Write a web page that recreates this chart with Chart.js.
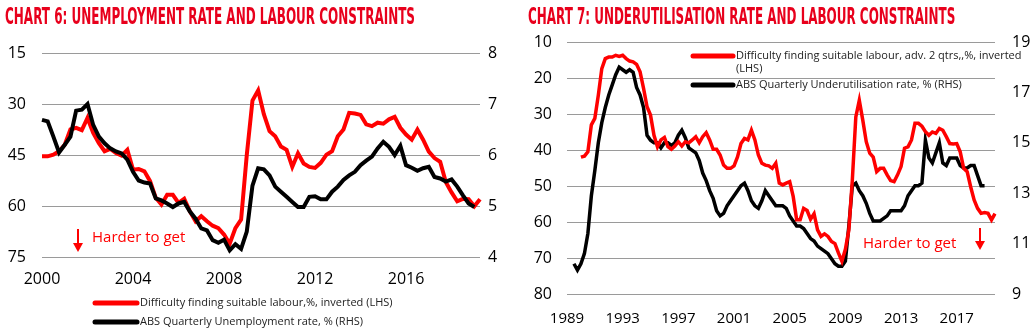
<!DOCTYPE html>
<html>
<head>
<meta charset="utf-8">
<script src="https://cdn.jsdelivr.net/npm/chart.js@4.4.1/dist/chart.umd.min.js"></script>
<style>
  html, body { margin: 0; padding: 0; background: #fff; }
  body { width: 1035px; height: 335px; position: relative; overflow: hidden; }
  .panel { position: absolute; top: 0; height: 335px; }
  .panel canvas { position: absolute; left: 0; top: 0; }
  .title {
    position: absolute; top: 3px; white-space: nowrap;
    font-family: 'DejaVu Sans Condensed', 'DejaVu Sans', sans-serif;
    font-weight: bold; font-size: 23px; line-height: normal;
    color: #e8001c; transform-origin: 0 0;
  }
</style>
</head>
<body>
<div class="panel" style="left:0;width:520px">
  <canvas id="chart6" width="520" height="335"></canvas>
  <div class="title" style="left:5px" data-width="410">CHART 6: UNEMPLOYMENT RATE AND LABOUR CONSTRAINTS</div>
</div>
<div class="panel" style="left:520px;width:515px">
  <canvas id="chart7" width="515" height="335"></canvas>
  <div class="title" style="left:8px" data-width="427">CHART 7: UNDERUTILISATION RATE AND LABOUR CONSTRAINTS</div>
</div>
<script>
// ---- Chart 6: quarterly from 2000 Q1 ----
const tickYears6 = ['2000', '2004', '2008', '2012', '2016'];
// difficulty finding labour, % (plotted inverted), 2000 Q1 - 2019 Q2
const difficulty6 = [
  45.4, 45.4, 44.9, 43.9, 42, 37.5, 37, 37.7, 34.1, 38.5,
  41.5, 43.9, 43.2, 44.4, 45.2, 43.5, 49.3, 49.1, 49.8, 52.7,
  57.6, 59.6, 56.7, 56.7, 59.1, 57.9, 61.6, 64.5, 63, 64.5,
  65.8, 66.5, 68.4, 71.1, 66.5, 64, 45, 29, 26, 33,
  38, 39.5, 42.5, 43.5, 48.5, 44.5, 47.5, 48.5, 48.8, 47.3,
  44.9, 43.9, 39.5, 37.5, 32.6, 32.8, 33.2, 36, 36.5, 35.5,
  35.8, 34.5, 33.8, 37, 39, 40.5, 37.5, 40.5, 44, 45.9,
  47, 53, 56, 58.6, 57.9, 58, 60.1, 58
];
// unemployment rate, %, 2000 Q1 - 2019 Q1
const unemployment6 = [
  6.69, 6.66, 6.36, 6.05, 6.2, 6.36, 6.87, 6.89, 7.0, 6.59,
  6.36, 6.23, 6.13, 6.07, 6.03, 5.91, 5.67, 5.5, 5.46, 5.44,
  5.15, 5.11, 5.05, 4.98, 5.05, 5.08, 4.89, 4.75, 4.56, 4.52,
  4.33, 4.28, 4.34, 4.13, 4.25, 4.16, 4.5, 5.4, 5.74, 5.72,
  5.6, 5.38, 5.28, 5.18, 5.08, 4.98, 4.98, 5.18, 5.19, 5.13,
  5.13, 5.28, 5.38, 5.51, 5.6, 5.67, 5.8, 5.89, 5.97, 6.13,
  6.26, 6.16, 6.0, 6.18, 5.8, 5.75, 5.69, 5.74, 5.77, 5.57,
  5.54, 5.48, 5.52, 5.38, 5.21, 5.05, 4.98
];

// ---- Chart 7: quarterly from 1989 Q1 ----
const tickYears7 = ['1989', '1993', '1997', '2001', '2005', '2009', '2013', '2017'];
// difficulty finding labour, advanced 2 qtrs, starts 1990 Q1
const difficulty7 = [
  42, 41.7, 40.5, 33, 31.2, 24.8, 17.4, 14.6, 14.2, 14.2,
  13.7, 14, 13.7, 14.6, 15.3, 15.5, 16.2, 18.3, 22.9, 28,
  30.3, 35.9, 39.1, 37.2, 36.5, 39.1, 39.8, 38.9, 37.7, 38.9,
  37.7, 38, 37.2, 36.3, 38, 36.3, 35.2, 37.2, 39.8, 39.8,
  41.4, 44.2, 45.1, 45.1, 44.4, 41.9, 38.2, 36.8, 37.2, 34.5,
  37.2, 41.4, 43.7, 44.2, 44.4, 45.1, 43.7, 49.2, 49.7, 49.2,
  48.8, 52.9, 59.4, 59.4, 56.2, 56.8, 59.2, 57.7, 62.2, 64,
  63.3, 64, 65.4, 66, 68.6, 70.9, 67.6, 62.2, 48.3, 30.8,
  26.2, 31.7, 37.7, 40.9, 42, 46, 45.1, 45.1, 46.9, 48.5,
  48.8, 46.9, 44.6, 39.5, 39.1, 37.2, 32.6, 32.6, 33.4, 34.9,
  35.9, 35, 35.4, 34, 34.5, 36.3, 38.2, 38.3, 38.2, 40.5,
  45.1, 46, 50.2, 53.9, 56.2, 57.6, 57.4, 57.6, 59.4, 57.7
];
// underutilisation rate, %, starts 1989 Q3
const underutilisation7 = [
  10.2, 9.95, 10.2, 10.6, 11.4, 12.9, 13.9, 15, 15.8, 16.4,
  16.9, 17.3, 17.7, 18, 17.9, 17.8, 17.9, 17.8, 17.2, 16.9,
  16.4, 15.3, 15.1, 15, 15, 14.8, 15, 15, 14.9, 15,
  15.3, 15.5, 15.2, 14.8, 14.7, 14.6, 14.3, 13.8, 13.5, 13.1,
  12.8, 12.3, 12.1, 12.2, 12.5, 12.7, 12.9, 13.1, 13.3, 13.4,
  13.1, 12.7, 12.5, 12.4, 12.7, 13.1, 12.9, 12.7, 12.5, 12.5,
  12.5, 12.4, 12.1, 11.9, 11.7, 11.7, 11.6, 11.4, 11.2, 11.1,
  10.9, 10.8, 10.7, 10.6, 10.4, 10.2, 10.1, 10.1, 10.3, 11.7,
  13.3, 13.4, 13.1, 12.9, 12.6, 12.2, 11.9, 11.9, 11.9, 12,
  12.1, 12.3, 12.3, 12.3, 12.3, 12.5, 12.9, 13.1, 13.3, 13.3,
  13.4, 15.1, 14.4, 14.2, 14.6, 15, 14.2, 14.1, 14.4, 14.4,
  14.4, 14.1, 14, 14, 14.1, 14.1, 13.7, 13.3, 13.3
];

const RED = '#ff0000';
const GRID = '#9a9a9a';
const TICK_FONT = 'Open Sans';

function quarterLabels(startYear, count) {
  const out = [];
  for (let i = 0; i < count; i++) {
    out.push((startYear + Math.floor(i / 4)) + ' Q' + (i % 4 + 1));
  }
  return out;
}

function padStart(values, gap) {
  return new Array(gap).fill(null).concat(values);
}

// only label Q1 of the chosen years
function yearTicks(labels, years) {
  return (value, index) => {
    const [yr, q] = labels[index].split(' ');
    return q === 'Q1' && years.includes(yr) ? yr : '';
  };
}

// legend rows and the "Harder to get" note, drawn straight onto the canvas
const notesPlugin = {
  id: 'notes',
  afterDatasetsDraw(chart, args, opts) {
    const ctx = chart.ctx;
    const lg = opts.legend;
    ctx.save();
    ctx.font = lg.font;
    ctx.textBaseline = 'middle';
    ctx.textAlign = 'left';
    let y = lg.y;
    chart.data.datasets.forEach(ds => {
      ctx.strokeStyle = ds.borderColor;
      ctx.lineWidth = lg.lineWidth;
      ctx.lineCap = 'round';
      ctx.beginPath();
      ctx.moveTo(lg.x, y);
      ctx.lineTo(lg.x + lg.sampleWidth, y);
      ctx.stroke();
      ctx.fillStyle = lg.color;
      ds.label.split('\n').forEach(line => {
        ctx.fillText(line, lg.x + lg.sampleWidth + lg.gap, y);
        y += lg.lineHeight;
      });
      y += lg.rowGap;
    });

    const n = opts.note;
    ctx.fillStyle = n.color;
    ctx.strokeStyle = n.color;
    ctx.font = n.font;
    ctx.fillText(n.text, n.x, n.y);
    // arrow pointing down
    ctx.lineWidth = 2;
    ctx.lineCap = 'butt';
    ctx.beginPath();
    ctx.moveTo(n.arrowX, n.arrowTop);
    ctx.lineTo(n.arrowX, n.arrowTip - 7);
    ctx.stroke();
    ctx.beginPath();
    ctx.moveTo(n.arrowX - 5, n.arrowTip - 9);
    ctx.lineTo(n.arrowX + 5, n.arrowTip - 9);
    ctx.lineTo(n.arrowX, n.arrowTip);
    ctx.closePath();
    ctx.fill();
    ctx.restore();
  }
};

function axisFont(size) {
  return { family: TICK_FONT, size: size };
}

// chart 6
const labels6 = quarterLabels(2000, 78);
new Chart(document.getElementById('chart6'), {
  type: 'line',
  data: {
    labels: labels6,
    datasets: [
      {
        label: 'Difficulty finding suitable labour,%, inverted (LHS)',
        data: difficulty6,
        yAxisID: 'y',
        borderColor: RED,
        borderWidth: 4,
        pointRadius: 0,
        tension: 0,
        order: 1
      },
      {
        label: 'ABS Quarterly Unemployment rate, % (RHS)',
        data: unemployment6,
        yAxisID: 'y1',
        borderColor: '#000',
        borderWidth: 4,
        pointRadius: 0,
        tension: 0,
        order: 0
      }
    ]
  },
  options: {
    responsive: false,
    animation: false,
    layout: { padding: { top: 53, left: 0, right: 0, bottom: 0 } },
    plugins: {
      legend: { display: false },
      tooltip: { enabled: false },
      notes: {
        legend: { x: 95, y: 303, sampleWidth: 42, gap: 3, lineWidth: 5, lineHeight: 19, rowGap: 0,
          font: '11px "Open Sans"', color: '#222' },
        note: { text: 'Harder to get', x: 92, y: 238, font: '15px "Open Sans"', color: RED,
          arrowX: 78, arrowTop: 229, arrowTip: 252 }
      }
    },
    scales: {
      x: {
        grid: { display: false, drawTicks: false },
        border: { display: false },
        ticks: { autoSkip: false, maxRotation: 0, padding: 13, color: '#000', font: axisFont(16),
          callback: yearTicks(labels6, tickYears6) },
        afterFit: s => { s.height = 78; }
      },
      y: {
        position: 'left',
        reverse: true,
        min: 15,
        max: 75,
        ticks: { stepSize: 15, padding: 16, color: '#000', font: axisFont(16) },
        grid: { color: GRID, drawTicks: false },
        border: { display: false },
        afterFit: s => { s.width = 42; }
      },
      y1: {
        position: 'right',
        min: 4,
        max: 8,
        ticks: { stepSize: 1, padding: 8, color: '#000', font: axisFont(16) },
        grid: { display: false, drawTicks: false },
        border: { display: false },
        afterFit: s => { s.width = 40; }
      }
    }
  },
  plugins: [notesPlugin]
});

// chart 7
const labels7 = quarterLabels(1989, 124);
new Chart(document.getElementById('chart7'), {
  type: 'line',
  data: {
    labels: labels7,
    datasets: [
      {
        label: 'Difficulty finding suitable labour, adv. 2 qtrs,,%, inverted\n(LHS)',
        data: padStart(difficulty7, 4),
        yAxisID: 'y',
        borderColor: RED,
        borderWidth: 3.5,
        pointRadius: 0,
        tension: 0,
        order: 0
      },
      {
        label: 'ABS Quarterly Underutilisation rate, % (RHS)',
        data: padStart(underutilisation7, 2),
        yAxisID: 'y1',
        borderColor: '#000',
        borderWidth: 3.5,
        pointRadius: 0,
        tension: 0,
        order: 1
      }
    ]
  },
  options: {
    responsive: false,
    animation: false,
    layout: { padding: { top: 42, left: 0, right: 0, bottom: 0 } },
    plugins: {
      legend: { display: false },
      tooltip: { enabled: false },
      notes: {
        legend: { x: 173, y: 56, sampleWidth: 40, gap: 3, lineWidth: 5, lineHeight: 13, rowGap: 3,
          font: '11px "Open Sans"', color: '#222' },
        note: { text: 'Harder to get', x: 343, y: 244, font: '15px "Open Sans"', color: RED,
          arrowX: 460, arrowTop: 228, arrowTip: 250 }
      }
    },
    scales: {
      x: {
        grid: { display: false, drawTicks: false },
        border: { display: false },
        ticks: { autoSkip: false, maxRotation: 0, padding: 16, color: '#000', font: axisFont(15),
          callback: yearTicks(labels7, tickYears7) },
        afterFit: s => { s.height = 41; }
      },
      y: {
        position: 'left',
        reverse: true,
        min: 10,
        max: 80,
        ticks: { stepSize: 10, padding: 15, color: '#000', font: axisFont(16) },
        grid: { color: GRID, drawTicks: false },
        border: { display: false },
        afterFit: s => { s.width = 47; }
      },
      y1: {
        position: 'right',
        min: 9,
        max: 19,
        ticks: { stepSize: 2, padding: 17, color: '#000', font: axisFont(16) },
        grid: { display: false, drawTicks: false },
        border: { display: false },
        afterFit: s => { s.width = 40; }
      }
    }
  },
  plugins: [notesPlugin]
});

// squeeze the bold titles into their condensed width
document.querySelectorAll('.title').forEach(el => {
  const target = Number(el.dataset.width);
  el.style.transform = 'scaleX(' + (target / el.offsetWidth) + ')';
});
</script>
</body>
</html>
